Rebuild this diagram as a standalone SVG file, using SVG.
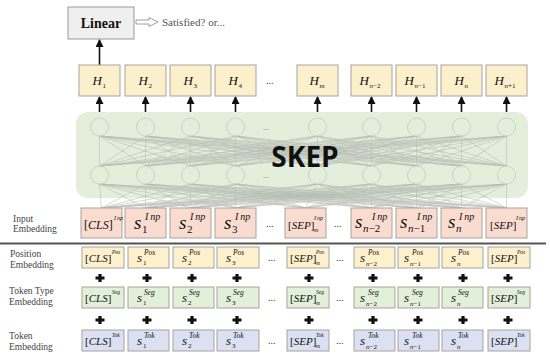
<svg xmlns="http://www.w3.org/2000/svg" width="550" height="358" viewBox="0 0 550 358">
<style>
.box{stroke:#a8a39c;stroke-width:1}
.hb{fill:#fcefcc}
.ib{fill:#f9dccf}
.pb{fill:#fdf0cc}
.sb{fill:#e2efd9}
.tb{fill:#dbe0f2}
.m{font-family:"Liberation Serif",serif;font-style:italic;fill:#111}
.u{font-style:normal}
.lbl{font-family:"Liberation Serif",serif;font-size:9.5px;fill:#444}
.dots{font-family:"Liberation Serif",serif;font-size:10px;fill:#333}
.net{fill:none;stroke:#b9bdb5;stroke-width:0.6}
.circ{fill:#e3eedb;stroke:#c3cabe;stroke-width:0.8}
.plus{fill:#111}
.arr{stroke:#111;stroke-width:1.6;marker-end:url(#ah)}
</style>
<defs>
<marker id="ah" markerUnits="userSpaceOnUse" markerWidth="8" markerHeight="9" refX="7" refY="4" orient="auto"><path d="M0,0 L8,4 L0,8 z" fill="#111"/></marker>
<path id="pl" d="M-4.5 -1.6H-1.6V-4H1.6V-1.6H4.5V1.6H1.6V4H-1.6V1.6H-4.5Z"/>
</defs>

<g id="linear">
<rect x="68" y="7" width="66" height="32" fill="#efefef" stroke="#999"/>
<text x="101" y="28" text-anchor="middle" font-family="Liberation Serif,serif" font-weight="bold" font-size="14" fill="#111">Linear</text>
</g>
<g id="satisfied">
<path d="M136 20H149V17.5L158 22L149 26.5V24H136Z" fill="#fff" stroke="#888" stroke-width="0.8"/>
<text x="162" y="26" font-family="Liberation Serif,serif" font-size="11" fill="#555">Satisfied? or...</text>
</g>

<g id="encoder">
<rect x="76" y="112" width="452" height="86" rx="12" fill="#e3eedb"/>
<path class="net" d="M99.5 136L99.5 166M99.5 136L145.5 166M99.5 136L190.5 166M99.5 136L235.5 166M99.5 136L317.5 166M99.5 136L371.5 166M99.5 136L416.5 166M99.5 136L461.5 166M99.5 136L506.5 166
M145.5 136L99.5 166M145.5 136L145.5 166M145.5 136L190.5 166M145.5 136L235.5 166M145.5 136L317.5 166M145.5 136L371.5 166M145.5 136L416.5 166M145.5 136L461.5 166M145.5 136L506.5 166
M190.5 136L99.5 166M190.5 136L145.5 166M190.5 136L190.5 166M190.5 136L235.5 166M190.5 136L317.5 166M190.5 136L371.5 166M190.5 136L416.5 166M190.5 136L461.5 166M190.5 136L506.5 166
M235.5 136L99.5 166M235.5 136L145.5 166M235.5 136L190.5 166M235.5 136L235.5 166M235.5 136L317.5 166M235.5 136L371.5 166M235.5 136L416.5 166M235.5 136L461.5 166M235.5 136L506.5 166
M317.5 136L99.5 166M317.5 136L145.5 166M317.5 136L190.5 166M317.5 136L235.5 166M317.5 136L317.5 166M317.5 136L371.5 166M317.5 136L416.5 166M317.5 136L461.5 166M317.5 136L506.5 166
M371.5 136L99.5 166M371.5 136L145.5 166M371.5 136L190.5 166M371.5 136L235.5 166M371.5 136L317.5 166M371.5 136L371.5 166M371.5 136L416.5 166M371.5 136L461.5 166M371.5 136L506.5 166
M416.5 136L99.5 166M416.5 136L145.5 166M416.5 136L190.5 166M416.5 136L235.5 166M416.5 136L317.5 166M416.5 136L371.5 166M416.5 136L416.5 166M416.5 136L461.5 166M416.5 136L506.5 166
M461.5 136L99.5 166M461.5 136L145.5 166M461.5 136L190.5 166M461.5 136L235.5 166M461.5 136L317.5 166M461.5 136L371.5 166M461.5 136L416.5 166M461.5 136L461.5 166M461.5 136L506.5 166
M506.5 136L99.5 166M506.5 136L145.5 166M506.5 136L190.5 166M506.5 136L235.5 166M506.5 136L317.5 166M506.5 136L371.5 166M506.5 136L416.5 166M506.5 136L461.5 166M506.5 136L506.5 166"/>
<path class="net" d="M99.5 184L101.5 208M99.5 184L145.5 208M99.5 184L190.5 208M99.5 184L235.5 208M99.5 184L305.5 208M99.5 184L371.5 208M99.5 184L416.5 208M99.5 184L461.5 208M99.5 184L506.5 208
M145.5 184L101.5 208M145.5 184L145.5 208M145.5 184L190.5 208M145.5 184L235.5 208M145.5 184L305.5 208M145.5 184L371.5 208M145.5 184L416.5 208M145.5 184L461.5 208M145.5 184L506.5 208
M190.5 184L101.5 208M190.5 184L145.5 208M190.5 184L190.5 208M190.5 184L235.5 208M190.5 184L305.5 208M190.5 184L371.5 208M190.5 184L416.5 208M190.5 184L461.5 208M190.5 184L506.5 208
M235.5 184L101.5 208M235.5 184L145.5 208M235.5 184L190.5 208M235.5 184L235.5 208M235.5 184L305.5 208M235.5 184L371.5 208M235.5 184L416.5 208M235.5 184L461.5 208M235.5 184L506.5 208
M317.5 184L101.5 208M317.5 184L145.5 208M317.5 184L190.5 208M317.5 184L235.5 208M317.5 184L305.5 208M317.5 184L371.5 208M317.5 184L416.5 208M317.5 184L461.5 208M317.5 184L506.5 208
M371.5 184L101.5 208M371.5 184L145.5 208M371.5 184L190.5 208M371.5 184L235.5 208M371.5 184L305.5 208M371.5 184L371.5 208M371.5 184L416.5 208M371.5 184L461.5 208M371.5 184L506.5 208
M416.5 184L101.5 208M416.5 184L145.5 208M416.5 184L190.5 208M416.5 184L235.5 208M416.5 184L305.5 208M416.5 184L371.5 208M416.5 184L416.5 208M416.5 184L461.5 208M416.5 184L506.5 208
M461.5 184L101.5 208M461.5 184L145.5 208M461.5 184L190.5 208M461.5 184L235.5 208M461.5 184L305.5 208M461.5 184L371.5 208M461.5 184L416.5 208M461.5 184L461.5 208M461.5 184L506.5 208
M506.5 184L101.5 208M506.5 184L145.5 208M506.5 184L190.5 208M506.5 184L235.5 208M506.5 184L305.5 208M506.5 184L371.5 208M506.5 184L416.5 208M506.5 184L461.5 208M506.5 184L506.5 208"/>
<g>
<circle class="circ" cx="99.5" cy="127" r="9"/><circle class="circ" cx="145.5" cy="127" r="9"/><circle class="circ" cx="190.5" cy="127" r="9"/><circle class="circ" cx="235.5" cy="127" r="9"/><circle class="circ" cx="317.5" cy="127" r="9"/><circle class="circ" cx="371.5" cy="127" r="9"/><circle class="circ" cx="416.5" cy="127" r="9"/><circle class="circ" cx="461.5" cy="127" r="9"/><circle class="circ" cx="506.5" cy="127" r="9"/>
<circle class="circ" cx="99.5" cy="175" r="9"/><circle class="circ" cx="145.5" cy="175" r="9"/><circle class="circ" cx="190.5" cy="175" r="9"/><circle class="circ" cx="235.5" cy="175" r="9"/><circle class="circ" cx="317.5" cy="175" r="9"/><circle class="circ" cx="371.5" cy="175" r="9"/><circle class="circ" cx="416.5" cy="175" r="9"/><circle class="circ" cx="461.5" cy="175" r="9"/><circle class="circ" cx="506.5" cy="175" r="9"/>
</g>
<text x="263" y="130" font-family="Liberation Serif,serif" font-size="8" fill="#777">...</text>
<text x="263" y="178" font-family="Liberation Serif,serif" font-size="8" fill="#777">...</text>
<text x="305" y="167" text-anchor="middle" font-family="Open Sans,sans-serif" font-weight="bold" font-size="28" fill="#111">SKEP</text>
</g>

<g id="connectors">
<line class="arr" x1="99.5" y1="65" x2="99.5" y2="40"/>
<line class="arr" x1="99.5" y1="112" x2="99.5" y2="97"/>
<line class="arr" x1="145.5" y1="112" x2="145.5" y2="97"/>
<line class="arr" x1="190.5" y1="112" x2="190.5" y2="97"/>
<line class="arr" x1="235.5" y1="112" x2="235.5" y2="97"/>
<line class="arr" x1="317.5" y1="112" x2="317.5" y2="97"/>
<line class="arr" x1="371.5" y1="112" x2="371.5" y2="97"/>
<line class="arr" x1="416.5" y1="112" x2="416.5" y2="97"/>
<line class="arr" x1="461.5" y1="112" x2="461.5" y2="97"/>
<line class="arr" x1="506.5" y1="112" x2="506.5" y2="97"/>
</g>

<g id="hidden">
<rect class="box hb" x="79" y="65" width="41" height="31"/><text class="m" x="92.5" y="85" font-size="13">H</text><text class="m u" x="102.5" y="88" font-size="7">1</text>
<rect class="box hb" x="125" y="65" width="41" height="31"/><text class="m" x="138.5" y="85" font-size="13">H</text><text class="m u" x="148.5" y="88" font-size="7">2</text>
<rect class="box hb" x="170" y="65" width="41" height="31"/><text class="m" x="183.5" y="85" font-size="13">H</text><text class="m u" x="193.5" y="88" font-size="7">3</text>
<rect class="box hb" x="215" y="65" width="41" height="31"/><text class="m" x="228.5" y="85" font-size="13">H</text><text class="m u" x="238.5" y="88" font-size="7">4</text>
<text class="dots" x="266" y="84">...</text>
<rect class="box hb" x="297" y="65" width="41" height="31"/><text class="m" x="309.5" y="85" font-size="13">H</text><text class="m" x="319.5" y="88" font-size="7">m</text>
<rect class="box hb" x="351" y="65" width="41" height="31"/><text class="m" x="359.5" y="85" font-size="13">H</text><text class="m" x="369.5" y="88" font-size="7">n<tspan class="u">−2</tspan></text>
<rect class="box hb" x="396" y="65" width="41" height="31"/><text class="m" x="404.5" y="85" font-size="13">H</text><text class="m" x="414.5" y="88" font-size="7">n<tspan class="u">−1</tspan></text>
<rect class="box hb" x="441" y="65" width="41" height="31"/><text class="m" x="454.5" y="85" font-size="13">H</text><text class="m" x="464.5" y="88" font-size="7">n</text>
<rect class="box hb" x="486" y="65" width="41" height="31"/><text class="m" x="494.5" y="85" font-size="13">H</text><text class="m" x="504.5" y="88" font-size="7">n<tspan class="u">+1</tspan></text>
</g>

<g id="labels">
<text class="lbl" x="13" y="222">Input</text><text class="lbl" x="13" y="232">Embedding</text>
<line x1="0" y1="243.5" x2="546" y2="243.5" stroke="#555" stroke-width="2"/>
<text class="lbl" x="10" y="257">Position</text><text class="lbl" x="10" y="268">Embedding</text>
<text class="lbl" x="9" y="294">Token Type</text><text class="lbl" x="9" y="305">Embedding</text>
<text class="lbl" x="9" y="339">Token</text><text class="lbl" x="9" y="350">Embedding</text>
</g>

<g id="input-row">
<rect class="box ib" x="81" y="208" width="41" height="30"/><text class="m" x="84" y="229" font-size="12"><tspan class="u">[</tspan>CLS<tspan class="u">]</tspan></text><text class="m" x="114" y="220" font-size="6">I<tspan dx="1">np</tspan></text>
<rect class="box ib" x="125" y="208" width="41" height="30"/><text class="m" x="134" y="229" font-size="19">s</text><text class="m u" x="142" y="233" font-size="11">1</text><text class="m" x="145" y="220" font-size="10">I<tspan dx="2">np</tspan></text>
<rect class="box ib" x="170" y="208" width="41" height="30"/><text class="m" x="179" y="229" font-size="19">s</text><text class="m u" x="187" y="233" font-size="11">2</text><text class="m" x="190" y="220" font-size="10">I<tspan dx="2">np</tspan></text>
<rect class="box ib" x="215" y="208" width="41" height="30"/><text class="m" x="224" y="229" font-size="19">s</text><text class="m u" x="232" y="233" font-size="11">3</text><text class="m" x="235" y="220" font-size="10">I<tspan dx="2">np</tspan></text>
<text class="dots" x="266" y="227">...</text>
<rect class="box ib" x="285" y="208" width="41" height="30"/><text class="m" x="288" y="229" font-size="11"><tspan class="u">[</tspan>SEP<tspan class="u">]</tspan></text><text class="m" x="314" y="220" font-size="6">I<tspan dx="1">np</tspan></text><text class="m" x="314" y="232" font-size="6">m</text>
<text class="dots" x="334" y="227">...</text>
<rect class="box ib" x="351" y="208" width="41" height="30"/><text class="m" x="355" y="228" font-size="19">s</text><text class="m" x="363" y="232" font-size="11">n<tspan class="u">−2</tspan></text><text class="m" x="372" y="220" font-size="10">I<tspan dx="2">np</tspan></text>
<rect class="box ib" x="396" y="208" width="41" height="30"/><text class="m" x="400" y="228" font-size="19">s</text><text class="m" x="408" y="232" font-size="11">n<tspan class="u">−1</tspan></text><text class="m" x="417" y="220" font-size="10">I<tspan dx="2">np</tspan></text>
<rect class="box ib" x="441" y="208" width="41" height="30"/><text class="m" x="448" y="228" font-size="19">s</text><text class="m" x="456" y="232" font-size="11">n</text><text class="m" x="459" y="220" font-size="10">I<tspan dx="2">np</tspan></text>
<rect class="box ib" x="486" y="208" width="41" height="30"/><text class="m" x="490" y="229" font-size="11"><tspan class="u">[</tspan>SEP<tspan class="u">]</tspan></text><text class="m" x="516" y="220" font-size="6">I<tspan dx="1">np</tspan></text>
</g>

<g id="position-row">
<rect class="box pb" x="82" y="247" width="42" height="21"/><text class="m" x="85" y="262" font-size="11"><tspan class="u">[</tspan>CLS<tspan class="u">]</tspan></text><text class="m" x="112" y="254" font-size="5.5">Pos</text>
<rect class="box pb" x="128" y="247" width="41" height="21"/><text class="m" x="137" y="262" font-size="13">s</text><text class="m u" x="143" y="265" font-size="7">1</text><text class="m" x="144" y="255" font-size="7.5">Pos</text>
<rect class="box pb" x="173" y="247" width="41" height="21"/><text class="m" x="182" y="262" font-size="13">s</text><text class="m u" x="188" y="265" font-size="7">2</text><text class="m" x="189" y="255" font-size="7.5">Pos</text>
<rect class="box pb" x="217" y="247" width="42" height="21"/><text class="m" x="226" y="262" font-size="13">s</text><text class="m u" x="232" y="265" font-size="7">3</text><text class="m" x="233" y="255" font-size="7.5">Pos</text>
<text class="dots" x="268" y="261">...</text>
<rect class="box pb" x="287" y="247" width="42" height="21"/><text class="m" x="290" y="262" font-size="11"><tspan class="u">[</tspan>SEP<tspan class="u">]</tspan></text><text class="m" x="316" y="254" font-size="5.5">Pos</text><text class="m" x="316" y="265" font-size="5.5">m</text>
<text class="dots" x="336" y="261">...</text>
<rect class="box pb" x="354" y="247" width="41" height="21"/><text class="m" x="360" y="262" font-size="13">s</text><text class="m" x="366" y="266" font-size="7">n<tspan class="u">−2</tspan></text><text class="m" x="368" y="255" font-size="7.5">Pos</text>
<rect class="box pb" x="398" y="247" width="41" height="21"/><text class="m" x="404" y="262" font-size="13">s</text><text class="m" x="410" y="266" font-size="7">n<tspan class="u">−1</tspan></text><text class="m" x="412" y="255" font-size="7.5">Pos</text>
<rect class="box pb" x="442" y="247" width="41" height="21"/><text class="m" x="451" y="262" font-size="13">s</text><text class="m" x="457" y="266" font-size="7">n</text><text class="m" x="458" y="255" font-size="7.5">Pos</text>
<rect class="box pb" x="488" y="247" width="42" height="21"/><text class="m" x="491" y="262" font-size="11"><tspan class="u">[</tspan>SEP<tspan class="u">]</tspan></text><text class="m" x="517" y="254" font-size="5.5">Pos</text>
</g>

<g id="plus-1">
<use href="#pl" class="plus" x="100" y="278"/><use href="#pl" class="plus" x="147" y="278"/><use href="#pl" class="plus" x="192" y="278"/><use href="#pl" class="plus" x="237" y="278"/><use href="#pl" class="plus" x="309" y="278"/><use href="#pl" class="plus" x="373" y="278"/><use href="#pl" class="plus" x="418" y="278"/><use href="#pl" class="plus" x="463" y="278"/><use href="#pl" class="plus" x="508" y="278"/>
</g>

<g id="segment-row">
<rect class="box sb" x="82" y="287" width="42" height="21"/><text class="m" x="85" y="302" font-size="11"><tspan class="u">[</tspan>CLS<tspan class="u">]</tspan></text><text class="m" x="112" y="294" font-size="5.5">Seg</text>
<rect class="box sb" x="128" y="287" width="41" height="21"/><text class="m" x="137" y="302" font-size="13">s</text><text class="m u" x="143" y="305" font-size="7">1</text><text class="m" x="144" y="295" font-size="7.5">Seg</text>
<rect class="box sb" x="173" y="287" width="41" height="21"/><text class="m" x="182" y="302" font-size="13">s</text><text class="m u" x="188" y="305" font-size="7">2</text><text class="m" x="189" y="295" font-size="7.5">Seg</text>
<rect class="box sb" x="217" y="287" width="42" height="21"/><text class="m" x="226" y="302" font-size="13">s</text><text class="m u" x="232" y="305" font-size="7">3</text><text class="m" x="233" y="295" font-size="7.5">Seg</text>
<text class="dots" x="268" y="301">...</text>
<rect class="box sb" x="287" y="287" width="42" height="21"/><text class="m" x="290" y="302" font-size="11"><tspan class="u">[</tspan>SEP<tspan class="u">]</tspan></text><text class="m" x="316" y="294" font-size="5.5">Seg</text><text class="m" x="316" y="305" font-size="5.5">m</text>
<text class="dots" x="336" y="301">...</text>
<rect class="box sb" x="354" y="287" width="41" height="21"/><text class="m" x="360" y="302" font-size="13">s</text><text class="m" x="366" y="306" font-size="7">n<tspan class="u">−2</tspan></text><text class="m" x="368" y="295" font-size="7.5">Seg</text>
<rect class="box sb" x="398" y="287" width="41" height="21"/><text class="m" x="404" y="302" font-size="13">s</text><text class="m" x="410" y="306" font-size="7">n<tspan class="u">−1</tspan></text><text class="m" x="412" y="295" font-size="7.5">Seg</text>
<rect class="box sb" x="442" y="287" width="41" height="21"/><text class="m" x="451" y="302" font-size="13">s</text><text class="m" x="457" y="306" font-size="7">n</text><text class="m" x="458" y="295" font-size="7.5">Seg</text>
<rect class="box sb" x="488" y="287" width="42" height="21"/><text class="m" x="491" y="302" font-size="11"><tspan class="u">[</tspan>SEP<tspan class="u">]</tspan></text><text class="m" x="517" y="294" font-size="5.5">Seg</text>
</g>

<g id="plus-2">
<use href="#pl" class="plus" x="100" y="320"/><use href="#pl" class="plus" x="147" y="320"/><use href="#pl" class="plus" x="192" y="320"/><use href="#pl" class="plus" x="237" y="320"/><use href="#pl" class="plus" x="309" y="320"/><use href="#pl" class="plus" x="373" y="320"/><use href="#pl" class="plus" x="418" y="320"/><use href="#pl" class="plus" x="463" y="320"/><use href="#pl" class="plus" x="508" y="320"/>
</g>

<g id="token-row">
<rect class="box tb" x="82" y="330" width="42" height="21"/><text class="m" x="85" y="345" font-size="11"><tspan class="u">[</tspan>CLS<tspan class="u">]</tspan></text><text class="m" x="112" y="337" font-size="5.5">Tok</text>
<rect class="box tb" x="128" y="330" width="41" height="21"/><text class="m" x="137" y="345" font-size="13">s</text><text class="m u" x="143" y="348" font-size="7">1</text><text class="m" x="144" y="338" font-size="7.5">Tok</text>
<rect class="box tb" x="173" y="330" width="41" height="21"/><text class="m" x="182" y="345" font-size="13">s</text><text class="m u" x="188" y="348" font-size="7">2</text><text class="m" x="189" y="338" font-size="7.5">Tok</text>
<rect class="box tb" x="217" y="330" width="42" height="21"/><text class="m" x="226" y="345" font-size="13">s</text><text class="m u" x="232" y="348" font-size="7">3</text><text class="m" x="233" y="338" font-size="7.5">Tok</text>
<text class="dots" x="268" y="344">...</text>
<rect class="box tb" x="287" y="330" width="42" height="21"/><text class="m" x="290" y="345" font-size="11"><tspan class="u">[</tspan>SEP<tspan class="u">]</tspan></text><text class="m" x="316" y="337" font-size="5.5">Tok</text><text class="m" x="316" y="348" font-size="5.5">m</text>
<text class="dots" x="336" y="344">...</text>
<rect class="box tb" x="354" y="330" width="41" height="21"/><text class="m" x="360" y="345" font-size="13">s</text><text class="m" x="366" y="349" font-size="7">n<tspan class="u">−2</tspan></text><text class="m" x="368" y="338" font-size="7.5">Tok</text>
<rect class="box tb" x="398" y="330" width="41" height="21"/><text class="m" x="404" y="345" font-size="13">s</text><text class="m" x="410" y="349" font-size="7">n<tspan class="u">−1</tspan></text><text class="m" x="412" y="338" font-size="7.5">Tok</text>
<rect class="box tb" x="442" y="330" width="41" height="21"/><text class="m" x="451" y="345" font-size="13">s</text><text class="m" x="457" y="349" font-size="7">n</text><text class="m" x="458" y="338" font-size="7.5">Tok</text>
<rect class="box tb" x="488" y="330" width="42" height="21"/><text class="m" x="491" y="345" font-size="11"><tspan class="u">[</tspan>SEP<tspan class="u">]</tspan></text><text class="m" x="517" y="337" font-size="5.5">Tok</text>
</g>
</svg>
